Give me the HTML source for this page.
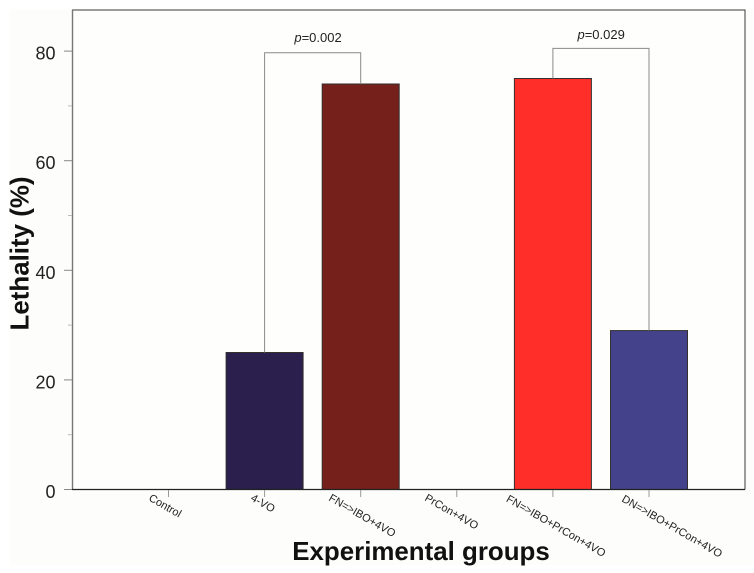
<!DOCTYPE html>
<html>
<head>
<meta charset="utf-8">
<style>
html,body{margin:0;padding:0;background:#fff;}
svg{display:block;font-family:"Liberation Sans",Arial,sans-serif;}
</style>
</head>
<body>
<svg id="chart" width="754" height="573" viewBox="0 0 754 573" xmlns="http://www.w3.org/2000/svg">
<rect x="10" y="9" width="744" height="556" fill="#fdfdfb"/>
<rect x="72.5" y="10" width="672.5" height="479.5" fill="#fefefd" stroke="none"/>
<g id="bars"></g>
<g id="brackets"></g>
<g id="axes"></g>
<text transform="translate(28.5,253.5) rotate(-90)" text-anchor="middle" font-size="25.9" font-weight="bold" fill="#111">Lethality (%)</text>
<text x="421" y="560" text-anchor="middle" font-size="25.9" font-weight="bold" fill="#111">Experimental groups</text>
</svg>
<script>
const categories = ["Control", "4-VO", "FN=>IBO+4VO", "PrCon+4VO", "FN=>IBO+PrCon+4VO", "DN=>IBO+PrCon+4VO"];
const lethality = [0, 25, 74, 0, 75, 29];
const barColors = ["#ffffff", "#2a1f4d", "#75201a", "#ff2e28", "#ff2e28", "#43428a"];
const yTicks = [0, 20, 40, 60, 80];
const yMinorTicks = [10, 30, 50, 70];
const comparisons = [
  { from: 1, to: 2, top: 79.7, label: "=0.002" },
  { from: 4, to: 5, top: 80.5, label: "=0.029" }
];

const NS = "http://www.w3.org/2000/svg";
const yScale = v => 489.5 - v * 5.48;
const xScale = i => 168.5 + i * 96.1;
const barHalf = 38.5;

function labelAnchorX(i) {
  return xScale(i) + [-20.5, -14.6, -32.7, -32.8, -47.4, -28][i];
}
function labelAnchorY(i) {
  return i >= 4 ? 501 : 500;
}

function mk(tag, attrs, parent) {
  const el = document.createElementNS(NS, tag);
  for (const k in attrs) el.setAttribute(k, attrs[k]);
  parent.appendChild(el);
  return el;
}

const barsG = document.getElementById("bars");
const bracketsG = document.getElementById("brackets");
const axesG = document.getElementById("axes");

lethality.forEach((v, i) => {
  if (v <= 0) return;
  const r = mk("rect", { x: xScale(i) - barHalf, y: yScale(v), width: barHalf * 2, height: yScale(0) - yScale(v), fill: barColors[i], stroke: "#33302f", "stroke-width": 1 }, barsG);
  
  
});

comparisons.forEach((c, n) => {
  const x1 = xScale(c.from), x2 = xScale(c.to), yT = yScale(c.top);
  const p = mk("path", { d: `M${x1} ${yScale(lethality[c.from])}V${yT}H${x2}V${yScale(lethality[c.to])}`, fill: "none", stroke: "#8a8a8a", "stroke-width": 1 }, bracketsG);
  
  
  const t = mk("text", { x: (x1 + x2) / 2 + (n === 0 ? 5.4 : 0.2), y: yT - (n === 0 ? 10.8 : 9.3), "text-anchor": "middle", "font-size": 13, fill: "#222" }, bracketsG);
  
  
  const it = mk("tspan", { "font-style": "italic" }, t);
  it.textContent = "p";
  const rest = mk("tspan", {}, t);
  rest.textContent = c.label;
});

const frame = mk("path", { d: "M72.5 489.5V10H745V489.5", fill: "none", stroke: "#3a3a3a", "stroke-width": 1 }, axesG);


const leftAxis = mk("line", { x1: 72.5, x2: 72.5, y1: 10, y2: 489.5, stroke: "#777", "stroke-width": 1.4 }, axesG);


const bottomAxis = mk("line", { x1: 72, x2: 745, y1: 489.5, y2: 489.5, stroke: "#222", "stroke-width": 1.2 }, axesG);



yTicks.forEach(v => {
  const y = yScale(v);
  const tick = mk("line", { x1: 64, x2: 72, y1: y, y2: y, stroke: "#888", "stroke-width": 1 }, axesG);
  
  
  const t = mk("text", { x: 55.5, y: y + 8.5, "text-anchor": "end", "font-size": 18, fill: "#222" }, axesG);
  
  
  t.textContent = v;
});
yMinorTicks.forEach(v => {
  const y = yScale(v);
  const tick = mk("line", { x1: 68, x2: 72, y1: y, y2: y, stroke: "#bbb", "stroke-width": 1 }, axesG);
  
  
});

categories.forEach((c, i) => {
  const x = xScale(i);
  const tick = mk("line", { x1: x, x2: x, y1: 490, y2: 497, stroke: "#999", "stroke-width": 1 }, axesG);
  
  
  const t = mk("text", { "font-size": 11, fill: "#222", transform: `translate(${labelAnchorX(i)},${labelAnchorY(i)}) rotate(30)` }, axesG);
  
  
  t.textContent = c;
});
</script>
</body>
</html>
